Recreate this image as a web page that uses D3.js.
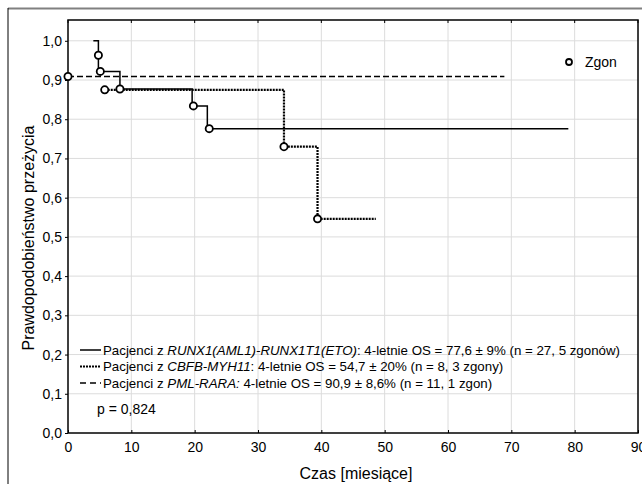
<!DOCTYPE html>
<html>
<head>
<meta charset="utf-8">
<script src="https://cdnjs.cloudflare.com/ajax/libs/d3/7.8.5/d3.min.js"></script>
<style>
  body { margin: 0; background: #fff; }
  svg text { font-family: "Liberation Sans", Arial, sans-serif; fill: #000; }
</style>
</head>
<body>
<div id="chart"></div>
<script>
// step curves: time [months] and survival after each point
const runxT = [4.0, 4.8, 4.8, 8.2, 19.6, 22.0, 79.0];
const runxS = [1.0, 0.963, 0.922, 0.877, 0.834, 0.776, 0.776];
const cbfbT = [5.8, 34.1, 39.4, 48.6];
const cbfbS = [0.875, 0.730, 0.546, 0.546];
const pmlT = [0.0, 68.9];
const pmlS = [0.909, 0.909];

// deaths (circles)
const runxDeathT = [4.8, 5.1, 8.2, 19.8, 22.3];
const runxDeathS = [0.963, 0.922, 0.877, 0.834, 0.776];
const cbfbDeathT = [5.8, 34.1, 39.4];
const cbfbDeathS = [0.875, 0.730, 0.546];
const pmlDeathT = [0.0];
const pmlDeathS = [0.909];

const xTicks = [0, 10, 20, 30, 40, 50, 60, 70, 80, 90];
const yTicks = [0, 0.1, 0.2, 0.3, 0.4, 0.5, 0.6, 0.7, 0.8, 0.9, 1.0];

const legendRows = [
  { pre: 'Pacjenci z ', it: 'RUNX1(AML1)-RUNX1T1(ETO)', post: ': 4-letnie OS = 77,6 ± 9% (n = 27, 5 zgonów)', style: 'solid' },
  { pre: 'Pacjenci z ', it: 'CBFB-MYH11', post: ': 4-letnie OS = 54,7 ± 20% (n = 8, 3 zgony)', style: 'dotted' },
  { pre: 'Pacjenci z ', it: 'PML-RARA:', post: ' 4-letnie OS = 90,9 ± 8,6% (n = 11, 1 zgon)', style: 'dashed' }
];

const W = 642, H = 484;
const pLeft = 68, pRight = 638, pTop = 20, pBottom = 433;

const svg = d3.select('#chart').append('svg')
  .attr('width', W).attr('height', H);

// outer frame
svg.append('line').attr('x1', 8).attr('x2', W).attr('y1', 8.5).attr('y2', 8.5)
  .attr('stroke', '#808080').attr('stroke-width', 2);
svg.append('line').attr('x1', 8).attr('x2', 8).attr('y1', 8).attr('y2', H)
  .attr('stroke', '#000').attr('stroke-width', 1);

const x = d3.scaleLinear().domain([0, 90]).range([pLeft, pRight]);
const y = d3.scaleLinear().domain([0, 1.053]).range([pBottom, pTop]);

const fmt = d => d3.format('.1f')(d).replace('.', ',');

// grid
svg.append('g').selectAll('line').data(xTicks.slice(1, -1)).join('line')
  .attr('x1', d => x(d)).attr('x2', d => x(d)).attr('y1', pTop).attr('y2', pBottom)
  .attr('stroke', '#dcdcdc').attr('stroke-width', 1);
svg.append('g').selectAll('line').data(yTicks.slice(1)).join('line')
  .attr('x1', pLeft).attr('x2', pRight).attr('y1', d => y(d)).attr('y2', d => y(d))
  .attr('stroke', '#dcdcdc').attr('stroke-width', 1);

// axes
const xAxis = svg.append('g').attr('transform', `translate(0,${pBottom})`)
  .call(d3.axisBottom(x).tickValues(xTicks).tickSize(-3).tickPadding(9).tickFormat(d3.format('d')));
xAxis.select('.domain').remove();
xAxis.selectAll('text').attr('font-size', 14).attr('dy', '0.71em');

const yAxis = svg.append('g').attr('transform', `translate(${pLeft},0)`)
  .call(d3.axisLeft(y).tickValues(yTicks).tickSize(3).tickPadding(3).tickFormat(fmt));
yAxis.select('.domain').remove();
yAxis.selectAll('text').attr('font-size', 14);

// top ticks
svg.append('g').selectAll('line').data(xTicks).join('line')
  .attr('x1', d => x(d)).attr('x2', d => x(d)).attr('y1', pTop).attr('y2', pTop + 3)
  .attr('stroke', '#000');

// plot frame
svg.append('rect').attr('x', pLeft).attr('y', pTop)
  .attr('width', pRight - pLeft).attr('height', pBottom - pTop)
  .attr('fill', 'none').attr('stroke', '#000').attr('stroke-width', 1.5);

// curves
const line = d3.line().x(d => x(d[0])).y(d => y(d[1])).curve(d3.curveStepAfter);
const styles = {
  solid: { w: 1.5, dash: null },
  dotted: { w: 2.2, dash: '2,1' },
  dashed: { w: 1.5, dash: '6,3' }
};
const series = [
  { t: runxT, s: runxS, dt: runxDeathT, ds: runxDeathS, style: 'solid' },
  { t: cbfbT, s: cbfbS, dt: cbfbDeathT, ds: cbfbDeathS, style: 'dotted' },
  { t: pmlT, s: pmlS, dt: pmlDeathT, ds: pmlDeathS, style: 'dashed' }
];
series.forEach(se => {
  const st = styles[se.style];
  svg.append('path').datum(d3.zip(se.t, se.s))
    .attr('d', line).attr('fill', 'none').attr('stroke', '#000')
    .attr('stroke-width', st.w).attr('stroke-dasharray', st.dash);
});
series.forEach(se => {
  svg.append('g').selectAll('circle').data(d3.zip(se.dt, se.ds)).join('circle')
    .attr('cx', d => x(d[0])).attr('cy', d => y(d[1])).attr('r', 3.6)
    .attr('fill', '#fff').attr('stroke', '#000').attr('stroke-width', 1.8);
});

// legend Zgon
svg.append('circle').attr('cx', 569).attr('cy', 62).attr('r', 3)
  .attr('fill', '#fff').attr('stroke', '#000').attr('stroke-width', 1.8);
svg.append('text').attr('x', 585).attr('y', 67).attr('font-size', 14).text('Zgon');

// bottom legend
const ly0 = 350, ldy = 16.5;
legendRows.forEach((r, i) => {
  const ly = ly0 + i * ldy;
  const st = styles[r.style];
  svg.append('line').attr('x1', 80).attr('x2', 101).attr('y1', ly).attr('y2', ly)
    .attr('stroke', '#000').attr('stroke-width', st.w)
    .attr('stroke-dasharray', r.style === 'dashed' ? '6,4' : st.dash);
  const t = svg.append('text').attr('x', 103).attr('y', ly + 4.6).attr('font-size', 13.3);
  t.append('tspan').text(r.pre);
  t.append('tspan').attr('font-style', 'italic').text(r.it);
  t.append('tspan').text(r.post);
});
svg.append('text').attr('x', 97).attr('y', 414).attr('font-size', 14).text('p = 0,824');

// axis titles
svg.append('text').attr('x', 356).attr('y', 479).attr('text-anchor', 'middle')
  .attr('font-size', 16).text('Czas [miesiące]');
svg.append('text').attr('transform', 'translate(34,238) rotate(-90)')
  .attr('text-anchor', 'middle').attr('font-size', 16).text('Prawdopodobieństwo przeżycia');
</script>
</body>
</html>
